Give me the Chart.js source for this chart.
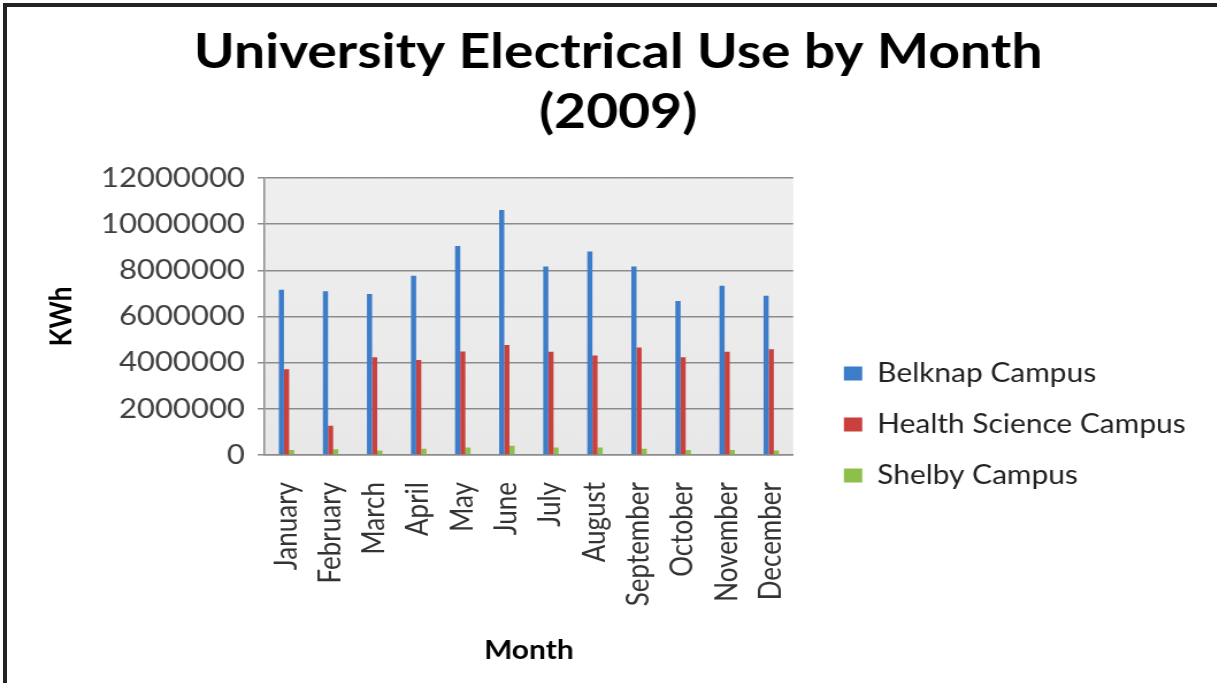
<!DOCTYPE html>
<html>
<head>
<meta charset="utf-8">
<script src="https://cdn.jsdelivr.net/npm/chart.js@4.4.1/dist/chart.umd.min.js"></script>
<style>
  html, body { margin: 0; padding: 0; background: #fff; overflow: hidden; }
  #frame { position: absolute; left: 3px; top: 3px; width: 1220px; height: 700px;
           border-left: 4px solid #222; border-top: 4px solid #222; }
  /* the original picture is stretched sideways, so the drawing is too */
  #wrap { position: absolute; left: 0; top: 0; width: 1058px; height: 683px;
          transform: scaleX(1.15); transform-origin: 0 0; }
</style>
</head>
<body>
<div id="frame"></div>
<div id="wrap"><canvas id="chart"></canvas></div>
<script>
// values (KWh)
const months = ["January", "February", "March", "April", "May", "June",
  "July", "August", "September", "October", "November", "December"];
const belknap = [7160000, 7090000, 6970000, 7770000, 9050000, 10610000,
  8170000, 8820000, 8170000, 6670000, 7330000, 6900000];
const healthScience = [3720000, 1270000, 4240000, 4120000, 4480000, 4770000,
  4470000, 4310000, 4660000, 4240000, 4470000, 4580000];
const shelby = [220000, 250000, 190000, 270000, 330000, 400000,
  320000, 320000, 270000, 220000, 220000, 190000];
const yTicks = [0, 2000000, 4000000, 6000000, 8000000, 10000000, 12000000];

const FONT = "Lato, 'Open Sans', sans-serif";

// grey plot area
const plotBg = {
  id: "plotBg",
  beforeDraw(chart) {
    const { ctx, chartArea: a } = chart;
    ctx.save();
    const g = ctx.createLinearGradient(0, a.top, 0, a.bottom);
    g.addColorStop(0, "#efefef");
    g.addColorStop(1, "#e8e8e8");
    ctx.fillStyle = g;
    ctx.fillRect(a.left, a.top, a.right - a.left, a.bottom - a.top);
    ctx.restore();
  },
};

const ctx = document.getElementById("chart").getContext("2d");
new Chart(ctx, {
  type: "bar",
  data: {
    labels: months,
    datasets: [
      { label: "Belknap Campus", data: belknap, backgroundColor: "#3d7cc9" },
      { label: "Health Science Campus", data: healthScience, backgroundColor: "#c9403d" },
      { label: "Shelby Campus", data: shelby, backgroundColor: "#8dbf4a" },
    ],
  },
  options: {
    responsive: true,
    maintainAspectRatio: false,
    animation: false,
    layout: { padding: { left: 34, right: 17, top: 0, bottom: 0 } },
    datasets: { bar: { categoryPercentage: 0.35, barPercentage: 1.0 } },
    plugins: {
      title: {
        display: true,
        text: ["University Electrical Use by Month", "(2009)"],
        color: "#000",
        font: { family: FONT, size: 48, weight: "bold", lineHeight: 1.25 },
        padding: { top: 23, bottom: 35 },
      },
      legend: {
        position: "right",
        maxWidth: 500,
        // empty title only pushes the items down
        title: { display: true, text: " ", font: { size: 10, lineHeight: 1 }, padding: { top: 156, bottom: 0 } },
        labels: {
          color: "#222",
          font: { family: FONT, size: 26 },
          boxWidth: 16,
          boxHeight: 14,
          padding: 25,
        },
      },
      tooltip: { enabled: false },
    },
    scales: {
      x: {
        grid: { display: false, drawTicks: false },
        border: { display: true, color: "#8c8c8c", width: 1.5 },
        ticks: {
          color: "#333",
          font: { family: FONT, size: 26 },
          minRotation: 90,
          maxRotation: 90,
          padding: 27,
          autoSkip: false,
        },
        title: {
          display: true,
          text: "Month",
          color: "#000",
          font: { family: FONT, size: 26, weight: "bold" },
          padding: { top: 0, bottom: 17 },
        },
        afterFit(scale) { scale.height = 228; },
      },
      y: {
        min: 0,
        max: 12000000,
        afterBuildTicks(scale) { scale.ticks = yTicks.map((v) => ({ value: v })); },
        grid: { color: "#8c8c8c", lineWidth: 1.5, tickLength: 6 },
        border: { display: true, color: "#8c8c8c", width: 1.5 },
        ticks: {
          color: "#404040",
          font: { family: FONT, size: 27 },
          padding: 11,
          callback: (v) => String(v),
        },
        title: {
          display: true,
          text: "KWh",
          color: "#000",
          font: { family: FONT, size: 26, weight: "bold" },
          padding: { top: 4, bottom: 0 },
        },
        afterFit(scale) { scale.width = 196; },
      },
      // space between plot area and legend
      gap: {
        position: "right",
        display: true,
        min: 0,
        max: 1,
        grid: { display: false, drawTicks: false },
        border: { display: false },
        ticks: { display: false },
        afterFit(scale) { scale.width = 19; },
      },
    },
  },
  plugins: [plotBg],
});
</script>
</body>
</html>
